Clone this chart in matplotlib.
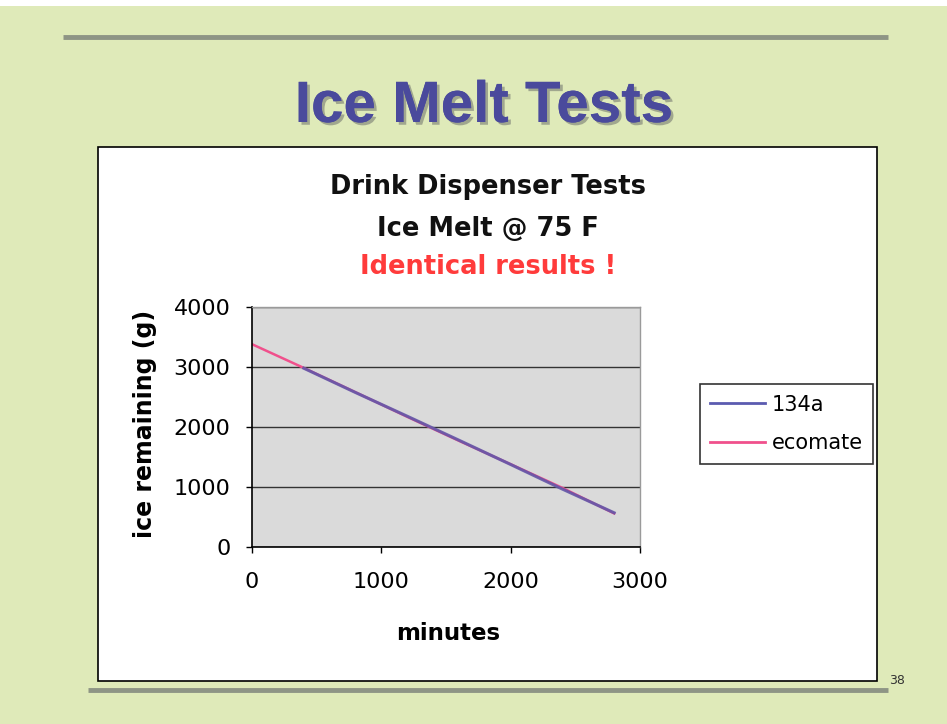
import matplotlib
matplotlib.use("Agg")
import matplotlib.pyplot as plt
from matplotlib.patches import Rectangle
from matplotlib.lines import Line2D
import matplotlib.patheffects as pe

plt.rcParams['font.family'] = ['DejaVu Sans']

# Data
minutes_134a = [400, 800, 1200, 1600, 2000, 2400, 2800]
ice_134a = [2980, 2575, 2180, 1780, 1375, 965, 570]
minutes_ecomate = [0, 400, 800, 1200, 1600, 2000, 2400, 2800]
ice_ecomate = [3380, 2985, 2580, 2170, 1770, 1380, 985, 560]
series_names = ["134a", "ecomate"]
x_ticks = [0, 1000, 2000, 3000]
y_ticks = [0, 1000, 2000, 3000, 4000]

W, H = 947, 724
fig = plt.figure(figsize=(W / 100, H / 100), dpi=100)
fig.patch.set_facecolor('#dfeab9')

def fx(x):
    return x / W

def fy(y):
    return 1 - y / H

# white strip at top
fig.add_artist(Rectangle((0, fy(6)), 1, 6 / H, transform=fig.transFigure,
                         facecolor='white', edgecolor='none', zorder=0.5))

# horizontal rules
fig.add_artist(Line2D([fx(63), fx(888)], [fy(37), fy(37)], transform=fig.transFigure,
                      color='#8e9585', lw=3.5, solid_capstyle='butt', zorder=0.6))
fig.add_artist(Line2D([fx(88), fx(888)], [fy(690), fy(690)], transform=fig.transFigure,
                      color='#8e9585', lw=3.5, solid_capstyle='butt', zorder=0.6))

# slide title
fig.text(fx(484), fy(122), "Ice Melt Tests", ha='center', va='baseline', fontsize=42,
         fontweight='bold', color='#4a4a9c', family='Liberation Sans',
         path_effects=[pe.withSimplePatchShadow(offset=(2, -2), shadow_rgbFace='#9aa08a', alpha=0.9),
                       pe.Normal()])

# chart box
fig.add_artist(Rectangle((fx(98), fy(681)), (877 - 98) / W, (681 - 147) / H,
                         transform=fig.transFigure, facecolor='white',
                         edgecolor='black', lw=1.2, zorder=0.7))

# chart titles
fig.text(fx(488), fy(194), "Drink Dispenser Tests", ha='center', va='baseline',
         fontsize=18.5, fontweight='bold', color='#111111')
fig.text(fx(488), fy(236), "Ice Melt @ 75 F", ha='center', va='baseline',
         fontsize=18.5, fontweight='bold', color='#111111')
fig.text(fx(488), fy(274), "Identical results !", ha='center', va='baseline',
         fontsize=18.5, fontweight='bold', color='#ff3b3b')

# axes
ax = fig.add_axes([fx(252), fy(547), (640 - 252) / W, (547 - 307) / H])
ax.set_zorder(2)
ax.set_facecolor('#dadada')
ax.plot(minutes_ecomate, ice_ecomate, color='#f0508c', lw=1.8, label=series_names[1])
ax.plot(minutes_134a, ice_134a, color='#6257a8', lw=2.2, label=series_names[0], alpha=0.9)

ax.set_xlim(0, 3000)
ax.set_ylim(0, 4000)
ax.set_xticks(x_ticks)
ax.set_yticks(y_ticks)
ax.set_xticklabels([str(v) for v in x_ticks])
ax.set_yticklabels([str(v) for v in y_ticks])
ax.tick_params(axis='both', labelsize=16, length=4.5, width=1, direction='out', colors='black')
ax.tick_params(axis='x', pad=13.5)
ax.tick_params(axis='y', pad=11)
ax.yaxis.grid(True, color='#333333', lw=1)
ax.set_axisbelow(True)
for s in ['top', 'right']:
    ax.spines[s].set_color('#9a9a9a')
    ax.spines[s].set_linewidth(1)
for s in ['left', 'bottom']:
    ax.spines[s].set_color('black')
    ax.spines[s].set_linewidth(1.2)

fig.text(fx(448), fy(633), "minutes", ha='center', va='center', fontsize=16.5,
         fontweight='bold')
fig.text(fx(145), fy(424), "ice remaining (g)", ha='center', va='center', fontsize=17,
         fontweight='bold', rotation=90)

# legend
h1 = Line2D([], [], color='#5b5bb0', lw=2)
h2 = Line2D([], [], color='#f0508c', lw=2)
leg = fig.legend([h1, h2], series_names, loc='center left',
                 bbox_to_anchor=(fx(700), fy(424)), fontsize=15, frameon=True,
                 fancybox=False, edgecolor='black', handlelength=2.6,
                 handletextpad=0.35, labelspacing=0.9, borderpad=0.5,
                 borderaxespad=0)
leg.get_frame().set_linewidth(1.2)
leg.set_zorder(5)

fig.text(fx(897), fy(680), "38", ha='center', va='center', fontsize=9, color='#333333')

fig.savefig("out.png", dpi=100, facecolor=fig.get_facecolor())
